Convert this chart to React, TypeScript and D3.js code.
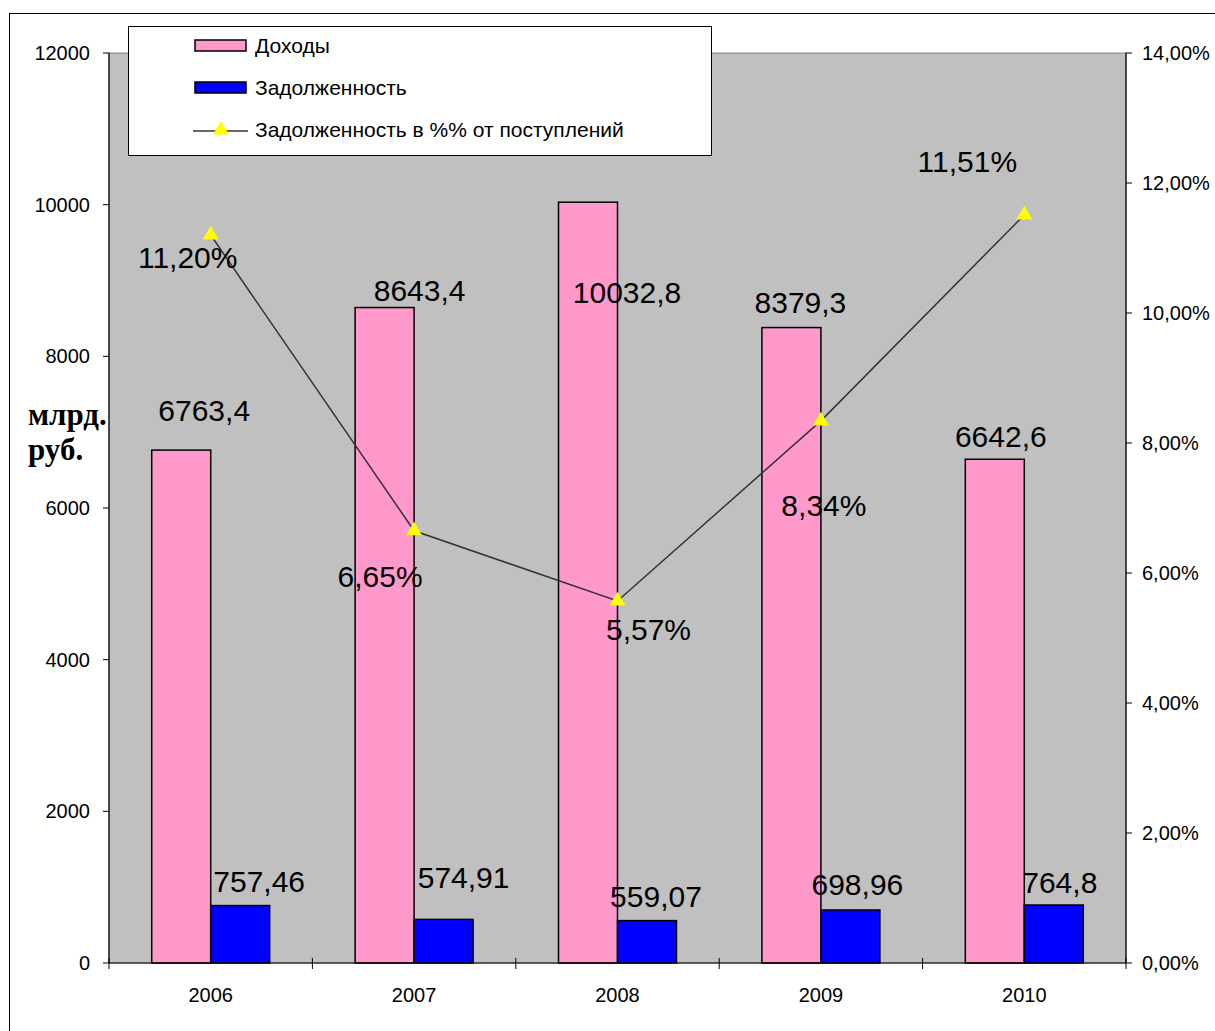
import React from "react";
import * as d3 from "d3";

const years = ["2006", "2007", "2008", "2009", "2010"];
const income = [6763.4, 8643.4, 10032.8, 8379.3, 6642.6];
const debt = [757.46, 574.91, 559.07, 698.96, 764.8];
const debtPct = [11.2, 6.65, 5.57, 8.34, 11.51];
const incomeLabels = ["6763,4", "8643,4", "10032,8", "8379,3", "6642,6"];
const debtLabels = ["757,46", "574,91", "559,07", "698,96", "764,8"];
const pctLabels = ["11,20%", "6,65%", "5,57%", "8,34%", "11,51%"];
const leftTicks = [0, 2000, 4000, 6000, 8000, 10000, 12000];
const rightTicks = [0, 2, 4, 6, 8, 10, 12, 14];
const seriesNames = ["Доходы", "Задолженность", "Задолженность в %% от поступлений"];

// label layout offsets (dx, dy from anchor)
const incomeOff = [[23, -29], [35, -7], [39, 101], [9, -15], [6, -12]];
const debtOff = [[19, -14], [20, -31], [9, -14], [7, -15], [6, -12]];
const pctOff = [[-23, 33], [-34, 56], [31, 39], [3, 95], [-57, -43]];

const W = 1215, H = 1031;
const L = 109, R = 1126, T = 53, B = 963;
const FONT = "Arial, 'Liberation Sans', sans-serif";
const SERIF = "'Liberation Serif', 'Times New Roman', serif";

export default function App() {
  const x = d3.scaleBand().domain(years).range([L, R]).paddingInner(0).paddingOuter(0);
  const bw = x.bandwidth();
  const gap = bw * 0.21;
  const barW = (bw - 2 * gap) / 2;
  const yL = d3.scaleLinear().domain([0, 12000]).range([B, T]);
  const yR = d3.scaleLinear().domain([0, 14]).range([B, T]);
  const cx = (y: string) => (x(y) as number) + bw / 2;
  const line = d3.line<number>().x((_, i) => cx(years[i])).y((d) => yR(d));
  const tri = d3.symbol().type(d3.symbolTriangle).size(110)();
  const fmtR = (v: number) => v.toFixed(2).replace(".", ",") + "%";

  return (
    <div style={{ position: "absolute", left: 0, top: 0 }}>
      <svg width={W} height={H} style={{ display: "block", background: "#fff" }} fontFamily={FONT}>
        <rect x={9.5} y={13.5} width={W} height={H} fill="#fff" stroke="#000" strokeWidth={1} />
        <rect x={L} y={T} width={R - L} height={B - T} fill="#C0C0C0" stroke="#808080" strokeWidth={1} />
        {/* bars */}
        {years.map((yr, i) => {
          const x0 = (x(yr) as number) + gap;
          return (
            <g key={yr}>
              <rect x={x0} y={yL(income[i])} width={barW} height={B - yL(income[i])} fill="#FF99CC" stroke="#000" strokeWidth={1.5} />
              <rect x={x0 + barW} y={yL(debt[i])} width={barW} height={B - yL(debt[i])} fill="#0000FF" stroke="#000" strokeWidth={1.5} />
            </g>
          );
        })}
        {/* axes */}
        <line x1={L} x2={L} y1={T} y2={B} stroke="#000" strokeWidth={1.2} />
        <line x1={R} x2={R} y1={T} y2={B} stroke="#000" strokeWidth={1.2} />
        <line x1={L} x2={R} y1={B} y2={B} stroke="#000" strokeWidth={1.2} />
        {leftTicks.map((t) => (
          <g key={"l" + t}>
            <line x1={L - 6} x2={L} y1={yL(t)} y2={yL(t)} stroke="#000" />
            <text x={90} y={yL(t) + 7} textAnchor="end" fontSize={20}>{t}</text>
          </g>
        ))}
        {rightTicks.map((t) => (
          <g key={"r" + t}>
            <line x1={R} x2={R + 6} y1={yR(t)} y2={yR(t)} stroke="#000" />
            <text x={1142} y={yR(t) + 7} textAnchor="start" fontSize={20}>{fmtR(t)}</text>
          </g>
        ))}
        {years.map((yr) => (
          <text key={"x" + yr} x={cx(yr)} y={1002} textAnchor="middle" fontSize={20}>{yr}</text>
        ))}
        {[...years.map((yr) => x(yr) as number), R].map((p, i) => (
          <line key={"xt" + i} x1={p} x2={p} y1={B - 5} y2={B + 6} stroke="#000" />
        ))}
        {/* line series */}
        <path d={line(debtPct) || ""} fill="none" stroke="#333" strokeWidth={1.5} />
        {debtPct.map((v, i) => (
          <path key={"m" + i} d={tri || ""} transform={`translate(${cx(years[i])},${yR(v)})`} fill="#FFFF00" />
        ))}
        {/* labels */}
        {years.map((yr, i) => {
          const x0 = (x(yr) as number) + gap;
          return (
            <g key={"lab" + yr} fontSize={30} textAnchor="middle">
              <text x={x0 + barW / 2 + incomeOff[i][0]} y={yL(income[i]) + incomeOff[i][1]}>{incomeLabels[i]}</text>
              <text x={x0 + barW * 1.5 + debtOff[i][0]} y={yL(debt[i]) + debtOff[i][1]}>{debtLabels[i]}</text>
              <text x={cx(yr) + pctOff[i][0]} y={yR(debtPct[i]) + pctOff[i][1]}>{pctLabels[i]}</text>
            </g>
          );
        })}
        {/* axis title */}
        <text x={28} y={425} fontFamily={SERIF} fontWeight="bold" fontSize={31}>млрд.</text>
        <text x={28} y={460} fontFamily={SERIF} fontWeight="bold" fontSize={31}>руб.</text>
        {/* legend */}
        <g>
          <rect x={128.5} y={26.5} width={583} height={129} fill="#fff" stroke="#000" strokeWidth={1} />
          <rect x={195} y={40} width={51} height={11} fill="#FF99CC" stroke="#000" strokeWidth={1.5} />
          <text x={255} y={53} fontSize={21}>{seriesNames[0]}</text>
          <rect x={195} y={82} width={51} height={11} fill="#0000FF" stroke="#000" strokeWidth={1.5} />
          <text x={255} y={95} fontSize={21}>{seriesNames[1]}</text>
          <line x1={193} x2={248} y1={131} y2={131} stroke="#333" strokeWidth={1.5} />
          <path d={tri || ""} transform="translate(221,130)" fill="#FFFF00" />
          <text x={255} y={137} fontSize={21}>{seriesNames[2]}</text>
        </g>
      </svg>
    </div>
  );
}
